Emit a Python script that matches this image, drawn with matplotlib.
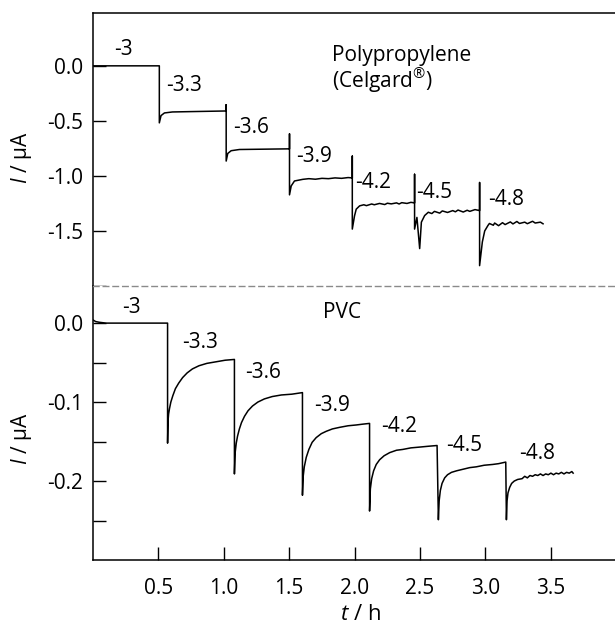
import matplotlib
matplotlib.use("Agg")
import matplotlib.pyplot as plt

plt.rcParams['font.family'] = ['Open Sans', 'DejaVu Sans']
plt.rcParams['mathtext.fontset'] = 'custom'
plt.rcParams['mathtext.rm'] = 'Open Sans'
plt.rcParams['mathtext.it'] = 'Open Sans:italic'
plt.rcParams['axes.unicode_minus'] = False

# ---- data: polypropylene (Celgard) ----
t_pp = [0.0, 0.507, 0.507, 0.520, 0.546, 0.607, 0.737, 1.018,
        1.018, 1.018, 1.030, 1.056, 1.119, 1.502,
        1.502, 1.502, 1.515, 1.540, 1.604, 1.65, 1.70, 1.75, 1.80, 1.85, 1.90, 1.95, 1.982,
        1.982, 1.982, 1.999, 2.012, 2.038, 2.07, 2.09, 2.13, 2.15, 2.19, 2.23, 2.25, 2.28,
        2.32, 2.34, 2.36, 2.40, 2.43, 2.458,
        2.458, 2.458, 2.476, 2.497, 2.510, 2.535, 2.563, 2.59, 2.61, 2.65, 2.67, 2.71, 2.75,
        2.77, 2.79, 2.83, 2.86, 2.88, 2.92, 2.955,
        2.955, 2.955, 2.976, 2.994, 3.019, 3.03, 3.06, 3.07, 3.10, 3.13, 3.15, 3.19, 3.21,
        3.24, 3.26, 3.30, 3.32, 3.36, 3.38, 3.42, 3.44]
i_pp = [0.0, 0.0, -0.518, -0.452, -0.428, -0.419, -0.416, -0.410,
        -0.353, -0.865, -0.796, -0.771, -0.760, -0.754,
        -0.618, -1.172, -1.091, -1.046, -1.031, -1.025, -1.030, -1.022, -1.025, -1.018, -1.022, -1.015, -1.018,
        -0.820, -1.483, -1.363, -1.302, -1.272, -1.262, -1.270, -1.255, -1.262, -1.250, -1.260, -1.248, -1.254,
        -1.245, -1.255, -1.243, -1.250, -1.240, -1.245,
        -0.985, -1.483, -1.377, -1.660, -1.420, -1.360, -1.330, -1.342, -1.322, -1.338, -1.318, -1.332, -1.315,
        -1.326, -1.310, -1.328, -1.312, -1.322, -1.306, -1.315,
        -1.060, -1.815, -1.600, -1.500, -1.450, -1.432, -1.448, -1.428, -1.452, -1.425, -1.442, -1.418, -1.436,
        -1.414, -1.432, -1.420, -1.434, -1.412, -1.428, -1.420, -1.435]

# ---- data: PVC ----
t_pvc = [0.0, 0.02, 0.05, 0.10, 0.57,
         0.570, 0.573, 0.578, 0.585, 0.595, 0.610, 0.630, 0.655, 0.685, 0.720, 0.760, 0.810,
         0.870, 0.940, 1.010, 1.081,
         1.081, 1.086, 1.095, 1.105, 1.119, 1.135, 1.158, 1.185, 1.219, 1.26, 1.31, 1.37,
         1.44, 1.52, 1.601,
         1.601, 1.606, 1.615, 1.630, 1.650, 1.675, 1.706, 1.745, 1.783, 1.83, 1.885, 1.95,
         2.012, 2.06, 2.114,
         2.114, 2.120, 2.130, 2.145, 2.165, 2.191, 2.225, 2.268, 2.32, 2.367, 2.43, 2.497,
         2.56, 2.630,
         2.640, 2.646, 2.655, 2.668, 2.688, 2.71, 2.74, 2.78, 2.83, 2.88, 2.93, 2.99,
         3.055, 3.10, 3.155,
         3.160, 3.165, 3.172, 3.185, 3.20, 3.22, 3.246, 3.28, 3.30, 3.32, 3.34, 3.36, 3.38,
         3.40, 3.42, 3.44, 3.46, 3.48, 3.50, 3.52, 3.54, 3.56, 3.58, 3.60, 3.62, 3.64, 3.66, 3.67]
i_pvc = [0.004, 0.002, 0.001, 0.0, 0.0,
         -0.152, -0.125, -0.115, -0.108, -0.100, -0.092, -0.083, -0.076, -0.069, -0.063, -0.058, -0.054,
         -0.051, -0.049, -0.047, -0.046,
         -0.191, -0.165, -0.152, -0.143, -0.134, -0.126, -0.118, -0.111, -0.105, -0.100, -0.096, -0.093,
         -0.091, -0.090, -0.088,
         -0.218, -0.195, -0.182, -0.170, -0.160, -0.151, -0.145, -0.140, -0.137, -0.134, -0.132, -0.130,
         -0.129, -0.128, -0.127,
         -0.238, -0.210, -0.197, -0.187, -0.179, -0.173, -0.168, -0.164, -0.161, -0.160, -0.158, -0.157,
         -0.156, -0.155,
         -0.249, -0.225, -0.212, -0.203, -0.196, -0.192, -0.189, -0.187, -0.185, -0.183, -0.182, -0.180,
         -0.179, -0.178, -0.176,
         -0.249, -0.225, -0.215, -0.208, -0.203, -0.200, -0.198, -0.197, -0.194, -0.196, -0.193, -0.194, -0.192,
         -0.193, -0.191, -0.193, -0.191, -0.192, -0.190, -0.192, -0.190, -0.191, -0.189, -0.191, -0.189, -0.190, -0.188, -0.190]

step_labels = ['-3', '-3.3', '-3.6', '-3.9', '-4.2', '-4.5', '-4.8']
pp_label_t = [0.16, 0.56, 1.07, 1.55, 2.00, 2.47, 3.02]
pp_label_i = [0.15, -0.18, -0.56, -0.82, -1.06, -1.15, -1.21]
pvc_label_t = [0.22, 0.68, 1.16, 1.69, 2.20, 2.70, 3.26]
pvc_label_i = [0.020, -0.024, -0.063, -0.104, -0.131, -0.155, -0.165]

pp_yticks = [0.0, -0.5, -1.0, -1.5, -2.0]
pp_yticklabels = ['0.0', '-0.5', '-1.0', '-1.5', '']
pvc_yticks = [0.0, -0.05, -0.1, -0.15, -0.2, -0.25]
pvc_yticklabels = ['0.0', '', '-0.1', '', '-0.2', '']
xticks = [0.5, 1.0, 1.5, 2.0, 2.5, 3.0, 3.5]
xticklabels = ['0.5', '1.0', '1.5', '2.0', '2.5', '3.0', '3.5']

W, H = 615, 624
fig = plt.figure(figsize=(W / 100, H / 100), dpi=100)
left = 93 / W
ax1 = fig.add_axes([left, 1 - 286 / H, 1 - left, 273 / H])
ax2 = fig.add_axes([left, 1 - 560 / H, 1 - left, 274 / H])

fs = 15
for ax in (ax1, ax2):
    ax.set_xlim(0, 3.99)
    ax.spines['right'].set_visible(False)
    for s in ('left', 'top', 'bottom'):
        ax.spines[s].set_linewidth(1.1)
    ax.tick_params(direction='in', length=9.5, width=1, labelsize=fs, pad=7)

ax1.plot(t_pp, i_pp, color='black', lw=1.1)
ax1.set_ylim(-2.0, 0.48)
ax1.spines['bottom'].set_visible(False)
ax1.set_xticks([])
ax1.set_yticks(pp_yticks)
ax1.set_yticklabels(pp_yticklabels)

ax2.plot(t_pvc, i_pvc, color='black', lw=1.1)
ax2.set_ylim(-0.30, 0.047)
ax2.spines['top'].set_color('#8a8a8a')
ax2.spines['top'].set_linestyle((0, (4, 3)))
ax2.spines['top'].set_linewidth(1.0)
ax2.set_yticks(pvc_yticks)
ax2.set_yticklabels(pvc_yticklabels)
ax2.set_xticks(xticks)
ax2.set_xticklabels(xticklabels)
ax2.tick_params(axis='x', pad=13)

for lab, x, y in zip(step_labels, pp_label_t, pp_label_i):
    ax1.text(x, y, lab, fontsize=fs, ha='left', va='center')
for lab, x, y in zip(step_labels, pvc_label_t, pvc_label_i):
    ax2.text(x, y, lab, fontsize=fs, ha='left', va='center')

ax1.text(1.83, 0.09, 'Polypropylene', fontsize=fs, ha='left', va='center')
ax1.text(1.83, -0.13, r'(Celgard$^{®}$)', fontsize=fs, ha='left', va='center')
ax2.text(1.76, 0.013, 'PVC', fontsize=fs, ha='left', va='center')

fig.text(22 / W, 1 - 158 / H, r'$I$ / µA', rotation=90, fontsize=fs, ha='center', va='center')
fig.text(22 / W, 1 - 439 / H, r'$I$ / µA', rotation=90, fontsize=fs, ha='center', va='center')
fig.text(360 / W, 1 - 614 / H, r'$t$ / h', fontsize=fs + 1, ha='center', va='center')

fig.savefig('out.png', dpi=100)
